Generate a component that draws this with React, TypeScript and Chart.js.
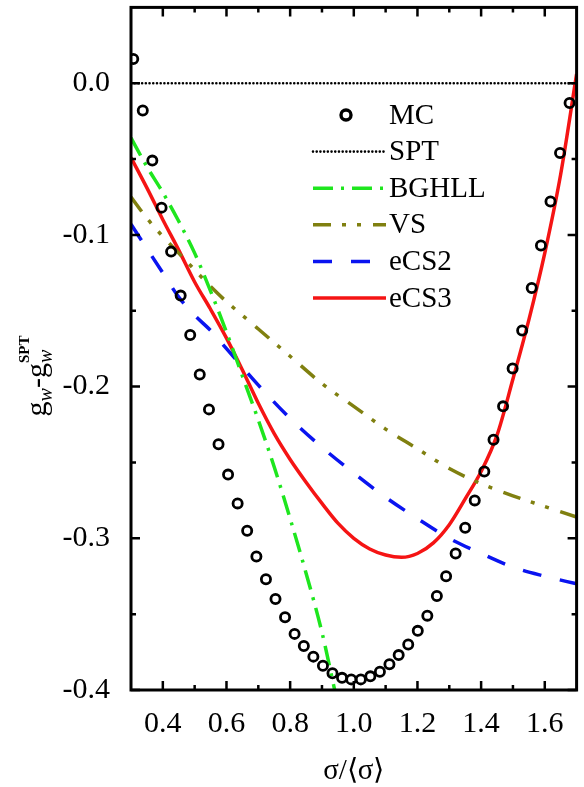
import { useEffect, useRef } from 'react';
import { Chart, registerables } from 'chart.js';

Chart.register(...registerables);

// ---- data ----
const mcX = [0.307, 0.337, 0.367, 0.396, 0.426, 0.456, 0.486, 0.516, 0.545, 0.575,
  0.605, 0.635, 0.665, 0.694, 0.724, 0.754, 0.784, 0.814, 0.843, 0.873,
  0.903, 0.933, 0.963, 0.992, 1.022, 1.052, 1.082, 1.112, 1.141, 1.171,
  1.201, 1.231, 1.261, 1.290, 1.320, 1.350, 1.380, 1.410, 1.439, 1.469,
  1.499, 1.529, 1.559, 1.588, 1.618, 1.648, 1.678];
const mcY = [0.016, -0.018, -0.051, -0.082, -0.111, -0.140, -0.166, -0.192, -0.215, -0.238,
  -0.258, -0.277, -0.295, -0.312, -0.327, -0.340, -0.352, -0.363, -0.371, -0.378,
  -0.384, -0.389, -0.392, -0.393, -0.393, -0.391, -0.388, -0.383, -0.377, -0.370,
  -0.361, -0.351, -0.338, -0.325, -0.310, -0.293, -0.275, -0.256, -0.235, -0.213,
  -0.188, -0.163, -0.135, -0.107, -0.078, -0.046, -0.013];

const sptX = [0.3, 1.7];
const sptY = [0.0, 0.0];

const bghllX = [0.30, 0.35, 0.40, 0.45, 0.50, 0.55, 0.60, 0.65, 0.70, 0.75, 0.80, 0.85, 0.90, 0.94];
const bghllY = [-0.036, -0.055, -0.072, -0.091, -0.112, -0.137, -0.164, -0.193, -0.222, -0.253, -0.287, -0.323, -0.362, -0.400];

const vsX = [0.30, 0.35, 0.40, 0.45, 0.50, 0.55, 0.60, 0.65, 0.70, 0.80, 0.90, 1.00, 1.10, 1.20, 1.30, 1.40, 1.50, 1.60, 1.70];
const vsY = [-0.075, -0.089, -0.101, -0.112, -0.123, -0.134, -0.144, -0.153, -0.162, -0.180, -0.198, -0.213, -0.228, -0.241, -0.254, -0.264, -0.272, -0.279, -0.286];

const ecs2X = [0.30, 0.35, 0.40, 0.45, 0.50, 0.55, 0.60, 0.70, 0.80, 0.90, 1.00, 1.10, 1.20, 1.30, 1.40, 1.50, 1.60, 1.70];
const ecs2Y = [-0.093, -0.109, -0.125, -0.141, -0.153, -0.163, -0.175, -0.199, -0.221, -0.240, -0.257, -0.273, -0.287, -0.300, -0.310, -0.319, -0.325, -0.330];

const ecs3X = [0.30, 0.35, 0.40, 0.45, 0.50, 0.55, 0.60, 0.65, 0.70, 0.75, 0.80, 0.85, 0.90, 0.95, 1.00,
  1.05, 1.10, 1.15, 1.20, 1.25, 1.30, 1.35, 1.40, 1.45, 1.50, 1.55, 1.60, 1.65, 1.70];
const ecs3Y = [-0.049, -0.069, -0.090, -0.110, -0.131, -0.149, -0.168, -0.189, -0.211, -0.231, -0.248, -0.263, -0.277, -0.290, -0.300,
  -0.307, -0.311, -0.3125, -0.310, -0.303, -0.291, -0.274, -0.256, -0.232, -0.195, -0.156, -0.112, -0.060, 0.006];

const seriesLabels = ['MC', 'SPT', 'BGHLL', 'VS', 'eCS2', 'eCS3'];

const xTickValues = [0.4, 0.6, 0.8, 1.0, 1.2, 1.4, 1.6];
const xMinorTicks = [0.5, 0.7, 0.9, 1.1, 1.3, 1.5];
const yTickValues = [0.0, -0.1, -0.2, -0.3, -0.4];
const yMinorTicks = [-0.05, -0.15, -0.25, -0.35];

const X_MIN = 0.3, X_MAX = 1.7, Y_MIN = -0.4, Y_MAX = 0.05;
const xTitle = 'σ/⟨σ⟩';

const SERIF = '"Liberation Serif", "Times New Roman", serif';

const pts = (xs: number[], ys: number[]) => xs.map((x, i) => ({ x, y: ys[i] }));

const framePlugin = {
  id: 'frameTicks',
  afterDatasetsDraw(chart: any) {
    const { ctx, chartArea: a, scales } = chart;
    const x = scales.x, y = scales.y;
    ctx.save();
    ctx.strokeStyle = '#000';
    ctx.lineWidth = 2.5;
    ctx.beginPath();
    const tick = (px: number, len: number, horiz: boolean) => {
      if (horiz) {
        ctx.moveTo(px, a.bottom); ctx.lineTo(px, a.bottom - len);
        ctx.moveTo(px, a.top); ctx.lineTo(px, a.top + len);
      } else {
        ctx.moveTo(a.left, px); ctx.lineTo(a.left + len, px);
        ctx.moveTo(a.right, px); ctx.lineTo(a.right - len, px);
      }
    };
    xTickValues.forEach(v => tick(x.getPixelForValue(v), 9, true));
    xMinorTicks.forEach(v => tick(x.getPixelForValue(v), 5, true));
    yTickValues.forEach(v => tick(y.getPixelForValue(v), 9, false));
    yMinorTicks.forEach(v => tick(y.getPixelForValue(v), 5, false));
    ctx.stroke();
    ctx.lineWidth = 3;
    ctx.strokeRect(a.left, a.top, a.right - a.left, a.bottom - a.top);
    ctx.restore();
  },
};

const legendPlugin = {
  id: 'innerLegend',
  afterDraw(chart: any) {
    const { ctx } = chart;
    const ds = chart.data.datasets;
    const x0 = 313, x1 = 386, tx = 389, y0 = 115, dy = 36.6;
    ctx.save();
    ctx.font = `29px ${SERIF}`;
    ctx.textBaseline = 'middle';
    ctx.textAlign = 'left';
    ctx.fillStyle = '#000';
    ds.forEach((d: any, i: number) => {
      const yy = y0 + i * dy;
      if (d.showLine === false) {
        ctx.beginPath();
        ctx.lineWidth = d.pointBorderWidth + 0.6;
        ctx.strokeStyle = d.pointBorderColor;
        ctx.arc(346, yy, d.pointRadius + 0.4, 0, Math.PI * 2);
        ctx.stroke();
      } else {
        ctx.beginPath();
        ctx.lineWidth = d.borderWidth;
        ctx.strokeStyle = d.borderColor;
        ctx.lineCap = d.borderCapStyle || 'butt';
        ctx.setLineDash(d.borderDash || []);
        ctx.moveTo(x0, yy);
        ctx.lineTo(x1, yy);
        ctx.stroke();
        ctx.setLineDash([]);
        ctx.lineCap = 'butt';
      }
      ctx.fillText(d.label, tx, yy + 1);
    });
    ctx.restore();
  },
};

const yTitlePlugin = {
  id: 'yTitle',
  afterDraw(chart: any) {
    const { ctx } = chart;
    ctx.save();
    ctx.translate(46, 376);
    ctx.rotate(-Math.PI / 2);
    ctx.fillStyle = '#000';
    ctx.textBaseline = 'alphabetic';
    ctx.textAlign = 'left';
    const big = `30px ${SERIF}`;
    const sub = `italic 20px ${SERIF}`;
    const sup = `bold 15px ${SERIF}`;
    const parts: { t: string; f: string; dy: number; adv: boolean }[] = [
      { t: 'g', f: big, dy: 0, adv: true },
      { t: 'w', f: sub, dy: 6, adv: true },
      { t: '-', f: big, dy: 0, adv: true },
      { t: 'g', f: big, dy: 0, adv: true },
      { t: 'SPT', f: sup, dy: -17, adv: false },
      { t: 'w', f: sub, dy: 6, adv: true },
    ];
    let total = 0;
    let supW = 0;
    parts.forEach(p => { ctx.font = p.f; const w = ctx.measureText(p.t).width; if (p.adv) total += w; else supW = w; });
    ctx.font = sub;
    const lastW = ctx.measureText('w').width;
    total = total - lastW + Math.max(lastW, supW);
    let cx = -total / 2;
    parts.forEach(p => {
      ctx.font = p.f;
      ctx.fillText(p.t, cx, p.dy);
      if (p.adv) cx += ctx.measureText(p.t).width;
    });
    ctx.restore();
  },
};

export default function App() {
  const ref = useRef<HTMLCanvasElement | null>(null);
  useEffect(() => {
    document.body.style.margin = '0';
    if (!ref.current) return;
    const chart = new Chart(ref.current, {
      type: 'scatter',
      data: {
        datasets: [
          {
            label: seriesLabels[0], data: pts(mcX, mcY), showLine: false,
            pointRadius: 4.6, pointBorderWidth: 2.8, pointBorderColor: '#000',
            pointBackgroundColor: 'rgba(0,0,0,0)', pointStyle: 'circle',
          },
          {
            label: seriesLabels[1], data: pts(sptX, sptY), showLine: true,
            borderColor: '#000', borderWidth: 2.6, borderDash: [0.01, 3.7], borderCapStyle: 'round', pointRadius: 0,
          },
          {
            label: seriesLabels[2], data: pts(bghllX, bghllY), showLine: true,
            borderColor: '#1ee61e', borderWidth: 3.5, borderDash: [20, 8, 3, 8], pointRadius: 0,
            cubicInterpolationMode: 'monotone',
          },
          {
            label: seriesLabels[3], data: pts(vsX, vsY), showLine: true,
            borderColor: '#808010', borderWidth: 3.5, borderDash: [18, 11, 4, 11, 4, 12], pointRadius: 0,
            cubicInterpolationMode: 'monotone',
          },
          {
            label: seriesLabels[4], data: pts(ecs2X, ecs2Y), showLine: true,
            borderColor: '#0a14f0', borderWidth: 3.5, borderDash: [19, 19], pointRadius: 0,
            cubicInterpolationMode: 'monotone',
          },
          {
            label: seriesLabels[5], data: pts(ecs3X, ecs3Y), showLine: true,
            borderColor: '#f51414', borderWidth: 3.5, pointRadius: 0,
            cubicInterpolationMode: 'monotone',
          },
        ],
      },
      options: {
        responsive: false,
        animation: false,
        devicePixelRatio: 1,
        layout: { padding: { left: 0, right: 2, top: 7, bottom: 0 } },
        plugins: { legend: { display: false }, tooltip: { enabled: false } },
        scales: {
          x: {
            type: 'linear', min: X_MIN, max: X_MAX,
            grid: { display: false }, border: { display: false },
            afterBuildTicks: (s: any) => { s.ticks = xTickValues.map(v => ({ value: v })); },
            afterFit: (s: any) => { s.height = 97; s.paddingLeft = 0; s.paddingRight = 0; },
            ticks: {
              color: '#000', padding: 8, maxRotation: 0, autoSkip: false,
              font: { family: SERIF, size: 30 },
              callback: (v: any) => Number(v).toFixed(1),
            },
            title: {
              display: true, text: xTitle, color: '#000',
              font: { family: SERIF, size: 29, lineHeight: 1 }, padding: { top: 0, bottom: 1 },
            },
          },
          y: {
            type: 'linear', min: Y_MIN, max: Y_MAX,
            grid: { display: false }, border: { display: false },
            afterBuildTicks: (s: any) => { s.ticks = yTickValues.map(v => ({ value: v })); },
            afterFit: (s: any) => { s.width = 131; s.paddingTop = 0; s.paddingBottom = 0; },
            ticks: {
              color: '#000', padding: 13, autoSkip: false,
              font: { family: SERIF, size: 30 },
              callback: (v: any) => Number(v).toFixed(1),
            },
          },
        },
      },
      plugins: [framePlugin, legendPlugin, yTitlePlugin],
    } as any);
    return () => chart.destroy();
  }, []);
  return (
    <div style={{ width: 584, height: 787, overflow: 'hidden' }}>
      <canvas ref={ref} width={584} height={787} style={{ display: 'block' }} />
    </div>
  );
}
